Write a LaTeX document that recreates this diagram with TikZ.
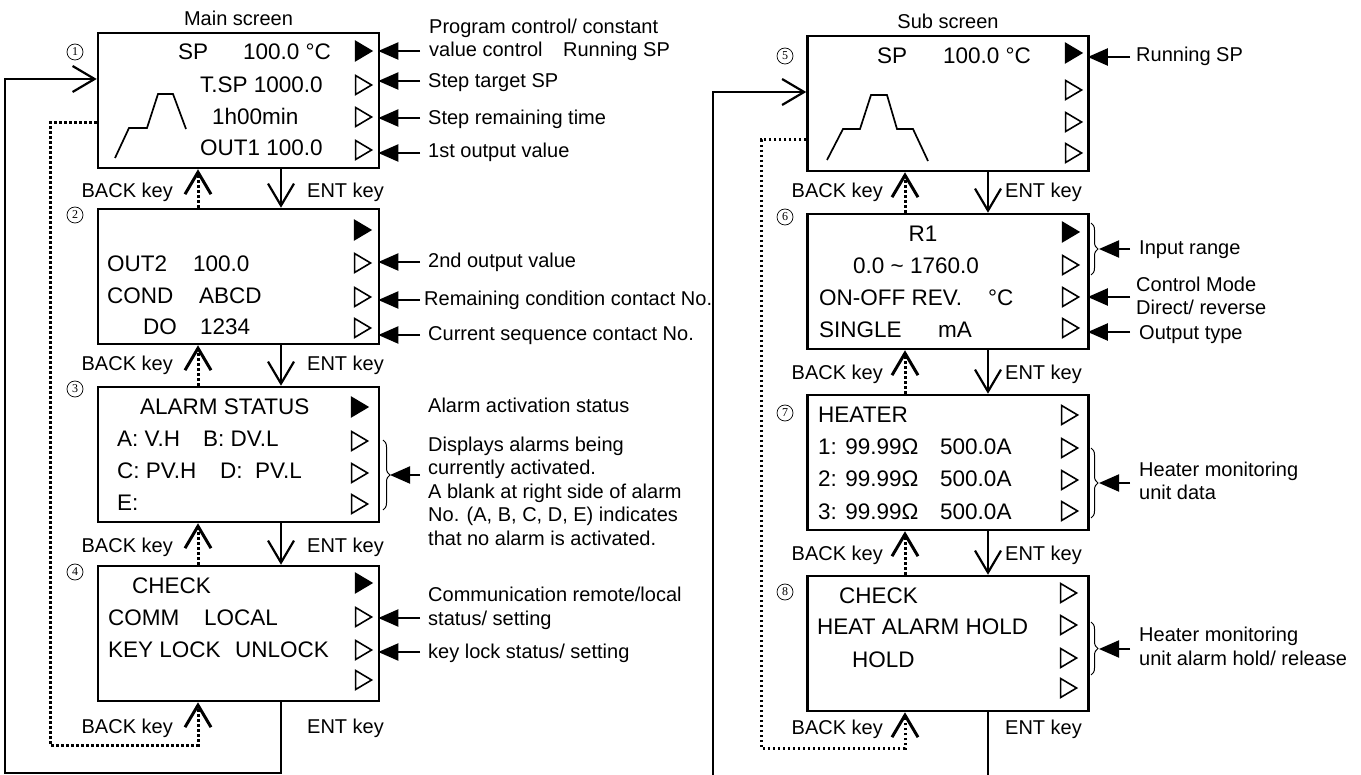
\documentclass[tikz,border=0pt]{standalone}
\usepackage{fontspec}
\setmainfont{Liberation Sans}
\newfontfamily\numfont{Liberation Serif}
\usetikzlibrary{arrows.meta,positioning,shapes.geometric,decorations.pathreplacing}
\newcommand{\scrtext}{\fontsize{22.5}{27}\selectfont}
\newcommand{\notetext}{\fontsize{20}{23.5}\selectfont}

\begin{document}
\begin{tikzpicture}[x=1pt,y=-1pt,
   screen/.style={draw,line width=2.5pt,minimum width=281pt,minimum height=135pt,inner sep=0pt},
   txt/.style={anchor=base west,inner sep=0pt,font=\scrtext},
   note/.style={anchor=base west,inner sep=0pt,align=left,font=\notetext},
   keylab/.style={inner sep=0pt,font=\notetext},
   rowmark/.style={isosceles triangle,isosceles triangle stretches,draw,line width=1.6pt,inner sep=0pt,minimum width=19pt,minimum height=16pt},
   num/.style={circle,draw,line width=0.7pt,inner sep=0pt,minimum size=16pt,font=\numfont\fontsize{12}{12}\selectfont},
   tip/.style={line width=2pt,-{Triangle[length=20pt,width=17pt]},shorten >=-2pt},
   ent/.style={line width=2.2pt,-{Straight Barb[length=22pt,width=26pt]}},
   back/.style={ent,line width=3pt,dash pattern=on 2.5pt off 2.5pt},
   brc/.style={decorate,decoration={brace,amplitude=7pt},line width=1pt}]
\useasboundingbox (0,0) rectangle (1361,775);

% screens
\node[screen] (s1) at (238.5,100.5) {};
\node[screen] (s2) at (238.5,276.5) {};
\node[screen] (s3) at (238.5,454.5) {};
\node[screen] (s4) at (238.5,633.5) {};
\node[screen] (s5) at (948,103.5) {};
\node[screen] (s6) at (948,281.5) {};
\node[screen] (s7) at (948,462.5) {};
\node[screen] (s8) at (948,643.5) {};
\node[keylab,above=6pt of s1] (main) {Main screen};
\node[keylab,above=6pt of s5] (sub) {Sub screen};

% row marks
\foreach \s/\x/\ya/\yb/\yc/\yd/\f in {1/361/51/85/117/150/black,2/360/230/263/297/328/black,
   3/357/407/441/473/504/black,4/361/583/617/650/680/black,5/1071/53/90/122/153/black,
   6/1068/232/265/297/328/black,7/1067/415/448/480/511/white,8/1066/593/625/658/688/white}{
  \node[rowmark,fill=\f] (t\s1) at (\x,\ya) {};
  \node[rowmark,fill=white] (t\s2) at (\x,\yb) {};
  \node[rowmark,fill=white] (t\s3) at (\x,\yc) {};
  \node[rowmark,fill=white] (t\s4) at (\x,\yd) {};
}
\foreach \n/\x/\y in {1/75/52,2/75/215,3/75/389,4/75/572,5/785/56,6/785/217,7/785/413,8/785/592}
  \node[num] (n\n) at (\x,\y) {\n};

% screen texts
\node[txt] (p11) at (178,60) {SP};
\node[txt] (p12) at (243,60) {100.0 °C};
\node[txt] (p13) at (200,93) {T.SP 1000.0};
\node[txt] (p14) at (212,125) {1h00min};
\node[txt] (p15) at (200,156) {OUT1 100.0};
\draw[line width=1.7pt] (115,158) -- (129,128) -- (147,128) -- (158,94) -- (173,94) -- (186,129);
\node[txt] (p21) at (107,272) {OUT2};
\node[txt] (p22) at (193,272) {100.0};
\node[txt] (p23) at (107,304) {COND};
\node[txt] (p24) at (199,304) {ABCD};
\node[txt] (p25) at (143,335) {DO};
\node[txt] (p26) at (200,335) {1234};
\node[txt] (p31) at (140,415) {ALARM STATUS};
\node[txt] (p32) at (117,447) {A: V.H};
\node[txt] (p33) at (203,447) {B: DV.L};
\node[txt] (p34) at (117,479) {C: PV.H};
\node[txt] (p35) at (220,479) {D:};
\node[txt] (p36) at (255,479) {PV.L};
\node[txt] (p37) at (117,511) {E:};
\node[txt] (p41) at (132,593) {CHECK};
\node[txt] (p42) at (108,625) {COMM};
\node[txt] (p43) at (204,625) {LOCAL};
\node[txt] (p44) at (108,657) {KEY LOCK};
\node[txt] (p45) at (235,657) {UNLOCK};
\node[txt] (p51) at (877,64) {SP};
\node[txt] (p52) at (943,64) {100.0 °C};
\draw[line width=1.7pt] (827,160) -- (843,129) -- (860,129) -- (871,95) -- (887,95) -- (897,129) -- (913,129) -- (928,161);
\node[txt,anchor=base] (p61) at (923,242) {R1};
\node[txt] (p62) at (853,274) {0.0 \textasciitilde{} 1760.0};
\node[txt] (p63) at (819,306) {ON-OFF REV.};
\node[txt] (p64) at (988,306) {°C};
\node[txt] (p65) at (819,338) {SINGLE};
\node[txt] (p66) at (938,338) {mA};
\node[txt] (p71) at (818,423) {HEATER};
\foreach \i/\y in {1/455,2/487,3/519}{
  \node[txt] (p7\i a) at (818,\y) {\i: 99.99Ω};
  \node[txt] (p7\i b) at (940,\y) {500.0A};
}
\node[txt] (p81) at (839,603) {CHECK};
\node[txt] (p82) at (817,634) {HEAT ALARM HOLD};
\node[txt] (p83) at (852,667) {HOLD};

% key transitions
\foreach \a/\b in {s1/s2,s2/s3,s3/s4}{
  \draw[ent] ([xshift=42.5pt]\a.south) -- ([xshift=42.5pt]\b.north);
  \draw[back] ([xshift=-40.5pt]\b.north) -- ([xshift=-40.5pt]\a.south);
}
\foreach \a/\b in {s5/s6,s6/s7,s7/s8}{
  \draw[ent] ([xshift=40pt]\a.south) -- ([xshift=40pt]\b.north);
  \draw[back] ([xshift=-43pt]\b.north) -- ([xshift=-43pt]\a.south);
}
\foreach \y in {198,371,552,733}{
  \node[keylab,anchor=base east] (kb\y) at (173,\y) {BACK key};
  \node[keylab,anchor=base west] (ke\y) at (307,\y) {ENT key};
}
\foreach \y in {198,380,561,734}{
  \node[keylab,anchor=base east] (rb\y) at (883,\y) {BACK key};
  \node[keylab,anchor=base west] (re\y) at (1005,\y) {ENT key};
}

% return loops
\coordinate (l1) at (5,773);
\coordinate (l2) at (5,79);
\draw[ent] ([xshift=42.5pt]s4.south) |- (l1) -- (l2) -- (l2 -| s1.west);
\coordinate (d1) at (50,123);
\coordinate (d2) at (50,745);
\draw[back] (s1.west |- d1) -- (d1) -- (d2) -| ([xshift=-40.5pt]s4.south);
\coordinate (r1) at (988,777);
\draw[line width=2.2pt] ([xshift=40pt]s8.south) -- (r1);
\coordinate (r2) at (713,777);
\coordinate (r3) at (713,92);
\draw[ent] (r2) -- (r3) -- (r3 -| s5.west);
\coordinate (d3) at (761,140);
\coordinate (d4) at (761,748);
\draw[back] (s5.west |- d3) -- (d3) -- (d4) -| ([xshift=-43pt]s8.south);

% notes, main screen (multi-line notes sit on their last line)
\node[note] (a11) at (429,57) {Program control/ constant\\value control\hspace{15pt} Running SP};
\draw[tip] (a11.base west) ++(-9,-6) coordinate (q) -- (q -| s1.east);
\node[note] (a12) at (428,88) {Step target SP};
\draw[tip] (a12.base west) ++(-8,-7) coordinate (q) -- (q -| s1.east);
\node[note] (a13) at (428,125) {Step remaining time};
\draw[tip] (a13.base west) ++(-8,-7) coordinate (q) -- (q -| s1.east);
\node[note] (a14) at (428,158) {1st output value};
\draw[tip] (a14.base west) ++(-8,-5) coordinate (q) -- (q -| s1.east);
\node[note] (a22) at (428,268) {2nd output value};
\draw[tip] (a22.base west) ++(-8,-6) coordinate (q) -- (q -| s2.east);
\node[note] (a23) at (424,306) {Remaining condition contact No.};
\draw[tip] (a23.base west) ++(-4,-6) coordinate (q) -- (q -| s2.east);
\node[note] (a24) at (428,341) {Current sequence contact No.};
\draw[tip] (a24.base west) ++(-8,-6) coordinate (q) -- (q -| s2.east);
\node[note] (a31) at (428,413) {Alarm activation status};
\node[note] (a32) at (428,545) {Displays alarms being\\currently activated.\\A blank at right side of alarm\\No. (A, B, C, D, E) indicates\\that no alarm is activated.};
\draw[brc] (383,440) -- (383,510);
\coordinate (b3) at (392,475);
\draw[tip] ([xshift=-8pt]a32.west |- b3) -- (b3);
\node[note] (a42) at (428,625) {Communication remote/local\\status/ setting};
\draw[tip] (a42.base west) ++(-8,-7) coordinate (q) -- (q -| s4.east);
\node[note] (a43) at (428,658) {key lock status/ setting};
\draw[tip] (a43.base west) ++(-8,-6) coordinate (q) -- (q -| s4.east);

% notes, sub screen
\node[note] (a51) at (1136,62) {Running SP};
\draw[tip] (a51.base west) ++(-6,-5) coordinate (q) -- (q -| s5.east);
\node[note] (a61) at (1139,255) {Input range};
\draw[brc] (1091,223) -- (1091,275);
\coordinate (b6) at (1101,249);
\draw[tip] ([xshift=-9pt]a61.west |- b6) -- (b6);
\node[note] (a63) at (1136,315) {Control Mode\\Direct/ reverse};
\draw[tip] (a63.base west) ++(-6,-18) coordinate (q) -- (q -| s6.east);
\node[note] (a64) at (1139,340) {Output type};
\draw[tip] (a64.base west) ++(-9,-8) coordinate (q) -- (q -| s6.east);
\node[note] (a71) at (1139,500) {Heater monitoring\\unit data};
\draw[brc] (1091,448) -- (1091,518);
\coordinate (b7) at (1101,483);
\draw[tip] ([xshift=-9pt]a71.west |- b7) -- (b7);
\node[note] (a81) at (1139,665) {Heater monitoring\\unit alarm hold/ release};
\draw[brc] (1091,622) -- (1091,675);
\coordinate (b8) at (1101,649);
\draw[tip] ([xshift=-9pt]a81.west |- b8) -- (b8);
\end{tikzpicture}
\end{document}
